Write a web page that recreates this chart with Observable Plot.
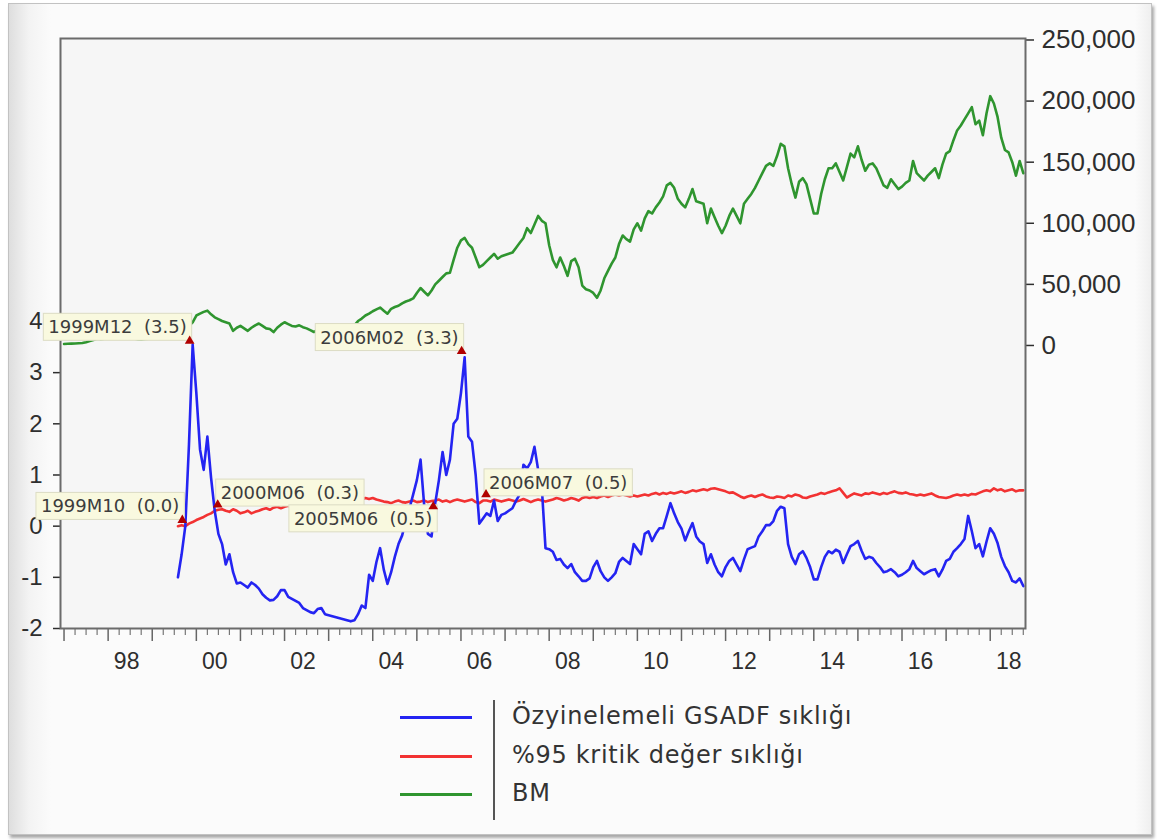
<!DOCTYPE html>
<html>
<head>
<meta charset="utf-8">
<script src="https://cdn.jsdelivr.net/npm/d3@7"></script>
<script src="https://cdn.jsdelivr.net/npm/@observablehq/plot@0.6"></script>
<style>
  html, body { margin: 0; padding: 0; background: #ffffff; }
  body { width: 1157px; height: 840px; overflow: hidden; position: relative; }
  #frame {
    position: absolute; left: 8px; top: 3px; width: 1142px; height: 830px;
    border: 1px solid #c2c2c2;
    background: linear-gradient(to right, #dedede 0px, #f3f3f3 20px, #fbfbfb 42px, #fbfbfb calc(100% - 16px), #efefef 100%);
    box-shadow: 2px 3px 3px rgba(0,0,0,0.35);
  }
  #chart { position: absolute; left: 0; top: 0; }
  .lg { position: absolute; font-family: "DejaVu Sans", Verdana, sans-serif; font-size: 24px; letter-spacing: 0.7px; color: #333; line-height: 1; white-space: nowrap; }
  .lgline { position: absolute; height: 3px; }
</style>
</head>
<body>
<div id="frame"></div>
<div id="chart"></div>
<div id="legend"></div>
<script>
// ---------------- DATA ----------------
// BM, monthly from 1997M01 to 2018M10 (right axis)
const bmStart = [1997, 1];
const bmValues = [
  1200,1400,1500,1600,1800,2000,2600,3600,4500,5500,5200,5600,            // 1997
  6200,6800,7200,7600,8000,7600,7200,5800,5000,4800,5400,5600,            // 1998
  6000,6500,7200,8500,9500,10000,10800,11500,12000,13500,16000,19000,     // 1999
  24500,26000,27500,28500,25500,23000,21500,20000,19000,18000,12000,14500, // 2000
  16000,14000,12000,14500,16500,18000,16000,14000,13500,11000,14500,17000, // 2001
  19000,17500,16000,15500,16500,15000,14000,12500,11000,12500,13500,12000, // 2002
  10500,10000,9500,10500,11500,12500,14000,16500,20000,22000,24500,26000,  // 2003
  28000,29500,31000,28500,26000,30000,31500,32500,34500,36000,37000,38500, // 2004
  43000,47000,44000,41000,45000,50000,53000,56000,59000,59500,70000,80000, // 2005
  86000,88000,83000,80000,72000,64000,66000,69000,72000,75000,71000,73000, // 2006
  74000,75000,76000,80000,84000,88000,96000,92000,99000,106000,102000,100000, // 2007
  82000,70000,64000,72000,65000,57000,69000,71000,64000,49000,46000,45000, // 2008
  43000,39000,45000,55000,61000,67000,72000,83000,90000,87000,85000,95000, // 2009
  100000,94000,104000,110000,108000,113000,117000,122000,131000,133000,129000,120000, // 2010
  116000,113000,120000,128000,118000,117000,116000,100000,112000,105000,98000,92000,   // 2011
  98000,106000,112000,106000,100000,116000,120000,124000,129000,135000,141000,147000,  // 2012
  149000,147000,155000,165000,163000,145000,132000,121000,134000,137000,132000,120000, // 2013
  108000,108000,124000,136000,145000,145000,149000,142000,135000,146000,157000,154000, // 2014
  163000,152000,143000,148000,149000,145000,138000,131000,129000,136000,132000,128000, // 2015
  130000,133000,135000,151000,141000,138000,135000,139000,142000,145000,137000,148000, // 2016
  157000,159000,168000,176000,180000,185000,190000,195000,181000,184000,172000,190000, // 2017
  204000,198000,187000,170000,160000,158000,150000,139000,151000,141000                // 2018
];

// Recursive GSADF sequence, monthly from 1999M08 to 2018M10 (left axis)
const gsadfStart = [1999, 8];
const gsadfValues = [
  -1.0,-0.55,0.0,1.6,3.55,                                          // 1999
  2.6,1.5,1.1,1.75,0.95,0.3,-0.15,-0.35,-0.75,-0.55,-0.9,-1.12,     // 2000
  -1.1,-1.15,-1.2,-1.1,-1.15,-1.22,-1.33,-1.4,-1.45,-1.44,-1.37,-1.25, // 2001
  -1.25,-1.38,-1.42,-1.46,-1.5,-1.6,-1.64,-1.68,-1.7,-1.62,-1.6,-1.72, // 2002
  -1.74,-1.76,-1.78,-1.8,-1.82,-1.84,-1.86,-1.84,-1.72,-1.55,-1.6,-0.95, // 2003
  -1.07,-0.7,-0.43,-0.85,-1.13,-0.9,-0.6,-0.35,-0.18,0.1,0.35,0.62,  // 2004
  0.9,1.3,0.4,-0.15,-0.2,0.45,0.9,1.45,1.0,1.3,2.0,2.1,              // 2005
  2.6,3.3,1.75,1.65,1.0,0.05,0.15,0.25,0.2,0.5,0.1,0.22,             // 2006
  0.25,0.3,0.35,0.5,0.62,1.2,1.13,1.25,1.55,1.1,0.75,-0.43,          // 2007
  -0.45,-0.5,-0.66,-0.64,-0.75,-0.82,-0.74,-0.9,-0.98,-1.07,-1.07,-1.02, // 2008
  -0.8,-0.68,-0.88,-1.0,-1.07,-1.0,-0.92,-0.7,-0.62,-0.68,-0.74,-0.35,   // 2009
  -0.45,-0.55,-0.15,-0.1,-0.29,-0.15,-0.04,-0.04,0.2,0.45,0.25,0.08,     // 2010
  -0.05,-0.28,-0.1,0.06,-0.2,-0.3,-0.35,-0.72,-0.55,-0.75,-0.9,-0.98,    // 2011
  -0.8,-0.68,-0.62,-0.75,-0.88,-0.65,-0.45,-0.42,-0.39,-0.2,-0.1,0.02,   // 2012
  0.02,0.1,0.3,0.38,0.35,-0.35,-0.6,-0.74,-0.55,-0.49,-0.62,-0.8,        // 2013
  -1.04,-1.04,-0.8,-0.6,-0.49,-0.53,-0.46,-0.5,-0.72,-0.55,-0.39,-0.35,  // 2014
  -0.29,-0.48,-0.64,-0.6,-0.62,-0.72,-0.8,-0.9,-0.88,-0.84,-0.9,-0.98,   // 2015
  -0.95,-0.9,-0.84,-0.68,-0.82,-0.88,-0.94,-0.9,-0.86,-0.84,-0.98,-0.85, // 2016
  -0.68,-0.64,-0.5,-0.43,-0.35,-0.25,0.2,-0.1,-0.43,-0.35,-0.59,-0.3,    // 2017
  -0.04,-0.15,-0.33,-0.6,-0.78,-0.9,-1.07,-1.1,-1.02,-1.17               // 2018
];

// 95% critical value sequence, monthly from 1999M08 to 2018M10 (left axis)
const cvStart = [1999, 8];
const cvValues = [
  0.0,0.02,0.0,0.05,0.08,                                            // 1999
  0.12,0.15,0.18,0.22,0.25,0.3,0.32,0.33,0.3,0.28,0.33,0.3,          // 2000
  0.25,0.27,0.3,0.25,0.28,0.3,0.33,0.35,0.32,0.36,0.38,0.35,         // 2001
  0.38,0.4,0.37,0.42,0.4,0.43,0.45,0.42,0.44,0.46,0.43,0.45,         // 2002
  0.47,0.45,0.48,0.5,0.47,0.49,0.52,0.5,0.48,0.52,0.55,0.53,         // 2003
  0.55,0.52,0.5,0.48,0.47,0.45,0.48,0.5,0.47,0.46,0.48,0.5,          // 2004
  0.47,0.48,0.5,0.47,0.49,0.5,0.52,0.48,0.5,0.47,0.5,0.52,           // 2005
  0.5,0.48,0.5,0.52,0.47,0.45,0.5,0.5,0.48,0.52,0.5,0.48,            // 2006
  0.5,0.52,0.5,0.48,0.5,0.53,0.5,0.47,0.5,0.52,0.5,0.48,             // 2007
  0.5,0.52,0.55,0.53,0.5,0.52,0.55,0.53,0.5,0.55,0.57,0.55,          // 2008
  0.57,0.55,0.58,0.6,0.57,0.6,0.62,0.6,0.62,0.6,0.58,0.6,            // 2009
  0.58,0.6,0.62,0.6,0.63,0.65,0.62,0.65,0.63,0.66,0.64,0.66,         // 2010
  0.68,0.65,0.67,0.7,0.68,0.7,0.72,0.7,0.73,0.74,0.72,0.7,           // 2011
  0.68,0.65,0.66,0.62,0.58,0.55,0.58,0.6,0.57,0.6,0.62,0.58,         // 2012
  0.56,0.55,0.58,0.57,0.55,0.6,0.58,0.62,0.6,0.56,0.55,0.58,         // 2013
  0.6,0.62,0.65,0.63,0.66,0.68,0.7,0.74,0.65,0.56,0.6,0.64,          // 2014
  0.62,0.6,0.64,0.63,0.66,0.64,0.62,0.65,0.63,0.66,0.68,0.65,        // 2015
  0.64,0.66,0.63,0.62,0.6,0.62,0.6,0.62,0.64,0.6,0.57,0.56,          // 2016
  0.55,0.57,0.6,0.62,0.6,0.62,0.6,0.63,0.62,0.65,0.68,0.7,           // 2017
  0.68,0.74,0.7,0.72,0.68,0.7,0.72,0.68,0.7,0.7                      // 2018
];

// Annotated points
const annotDates  = ["1999M12", "2006M02", "1999M10", "2000M06", "2005M06", "2006M07"];
const annotValues = [3.5, 3.3, 0.0, 0.3, 0.5, 0.5];
const annotPlace  = ["above-left", "above-left", "above-left", "above-right", "below-left", "above-right"];

// Axis ticks / labels
const leftTicks  = [-2, -1, 0, 1, 2, 3, 4];
const rightTicks = [0, 50000, 100000, 150000, 200000, 250000];
const xLabels    = ["98", "00", "02", "04", "06", "08", "10", "12", "14", "16", "18"];
const xLabelYears = [1998, 2000, 2002, 2004, 2006, 2008, 2010, 2012, 2014, 2016, 2018];

// Legend
const legendLabels = ["Özyinelemeli GSADF sıklığı", "%95 kritik değer sıklığı", "BM"];
const seriesColors = ["#2424f2", "#f23232", "#2f952f"];

// ---------------- BUILD ----------------
// right axis (BM) is mapped onto the left-axis units
const RIGHT_AT_0 = 3.531, RIGHT_AT_250K = 9.501;
const toLeft = v => RIGHT_AT_0 + v * (RIGHT_AT_250K - RIGHT_AT_0) / 250000;
const fromLeft = u => (u - RIGHT_AT_0) * 250000 / (RIGHT_AT_250K - RIGHT_AT_0);

function monthly([y0, m0], values) {
  return values.map((v, i) => {
    const k = m0 - 1 + i;
    return { t: y0 + Math.floor(k / 12) + (k % 12) / 12, v };
  });
}
const parseMonth = s => +s.slice(0, 4) + (+s.slice(5) - 1) / 12;

const bmData = monthly(bmStart, bmValues).map(d => ({ t: d.t, y: toLeft(d.v) }));
const gsadfData = monthly(gsadfStart, gsadfValues);
const cvData = monthly(cvStart, cvValues);

const annots = annotDates.map((s, i) => ({
  t: parseMonth(s), v: annotValues[i], place: annotPlace[i],
  label: s + "\u00a0\u00a0(" + annotValues[i].toFixed(1) + ")"
}));

const yearTicks = d3.range(1997, 2019);
const quarterTicks = d3.range(1997, 2018.9, 0.25).filter(t => t % 1 !== 0 && t < 2018.8);
const labelTicks = xLabelYears.map(y => y + 0.42);

const placeCfg = {
  "above-left":  { textAnchor: "end",   dx: -6, dy: -19.5, mdx: -3, mdy: -6 },
  "above-right": { textAnchor: "start", dx: 6,  dy: -17.5, mdx: 3,  mdy: -6 },
  "below-left":  { textAnchor: "end",   dx: -3, dy: 18.5,  mdx: -2, mdy: 6 }
};
const annotMarks = [];
for (const p of Object.keys(placeCfg)) {
  const c = placeCfg[p];
  const sub = annots.filter(d => d.place === p);
  annotMarks.push(Plot.text(sub, {
    x: "t", y: "v", text: "label", textAnchor: c.textAnchor, dx: c.dx, dy: c.dy,
    fontSize: 18, fontFamily: "DejaVu Sans, Verdana, sans-serif", fill: "#3c3c3c"
  }));
}
for (const p of Object.keys(placeCfg)) {
  const c = placeCfg[p];
  const sub = annots.filter(d => d.place === p);
  annotMarks.push(Plot.dot(sub, {
    x: "t", y: "v", symbol: "triangle", r: 3.6, fill: "#b00000", stroke: "none", dx: c.mdx, dy: c.mdy
  }));
}

const chart = Plot.plot({
  width: 1157, height: 690,
  marginLeft: 60, marginRight: 132, marginTop: 38, marginBottom: 62,
  style: { background: "transparent", fontFamily: "'Liberation Sans', Arial, sans-serif", fontSize: "24px", overflow: "visible" },
  x: { type: "linear", domain: [1996.92, 2018.80] },
  y: { domain: [-2, 9.53] },
  marks: [
    Plot.frame({ fill: "#f6f6f6", stroke: "none" }),
    Plot.axisY({ anchor: "left", ticks: leftTicks, tickSize: 7, tickPadding: 11, tickFormat: d => String(d), color: "#2e2e2e", strokeWidth: 1.5, fontSize: 24, label: null }),
    Plot.axisY({ anchor: "right", ticks: rightTicks.map(toLeft), tickSize: 8, tickPadding: 8,
      tickFormat: d => d3.format(",")(Math.round(fromLeft(d) / 1000) * 1000), color: "#2e2e2e", strokeWidth: 1.5, fontSize: 26, label: null }),
    Plot.axisX({ ticks: yearTicks, tickSize: 13, tickFormat: () => "", color: "#666", strokeWidth: 1.5, label: null }),
    Plot.axisX({ ticks: quarterTicks, tickSize: 7, tickFormat: () => "", color: "#777", strokeWidth: 1.2, label: null }),
    Plot.axisX({ ticks: labelTicks, tickSize: 0, tickPadding: 24, fontSize: 23,
      tickFormat: d => xLabels[xLabelYears.indexOf(Math.floor(d))], color: "#2e2e2e", label: null }),
    Plot.line(bmData, { x: "t", y: "y", stroke: seriesColors[2], strokeWidth: 2.6 }),
    Plot.line(cvData, { x: "t", y: "v", stroke: seriesColors[1], strokeWidth: 2.6 }),
    Plot.line(gsadfData, { x: "t", y: "v", stroke: seriesColors[0], strokeWidth: 2.6 }),
    Plot.frame({ stroke: "#6b6b6b", strokeWidth: 2 }),
    ...annotMarks
  ]
});
document.getElementById("chart").append(chart);

// label boxes behind annotation texts
(function () {
  const ns = "http://www.w3.org/2000/svg";
  const svgRect = chart.getBoundingClientRect();
  const groups = [...chart.querySelectorAll('g[aria-label="text"]')];
  if (!groups.length) return;
  const boxG = document.createElementNS(ns, "g");
  groups.forEach(g => g.querySelectorAll("text").forEach(t => {
    const r = t.getBoundingClientRect();
    const cy = (r.top + r.bottom) / 2 - svgRect.top;
    const rect = document.createElementNS(ns, "rect");
    rect.setAttribute("x", r.left - svgRect.left - 5);
    rect.setAttribute("y", cy - 13.5);
    rect.setAttribute("width", r.width + 10);
    rect.setAttribute("height", 27);
    rect.setAttribute("fill", "#f9f9df");
    rect.setAttribute("stroke", "#dcdcc4");
    rect.setAttribute("stroke-width", "1");
    boxG.appendChild(rect);
  }));
  groups[0].parentNode.insertBefore(boxG, groups[0]);
})();

// legend (below the plot)
(function () {
  const L = document.getElementById("legend");
  const rowY = [717, 756, 794];
  legendLabels.forEach((lab, i) => {
    const ln = document.createElement("div");
    ln.className = "lgline";
    ln.style.left = "400px"; ln.style.width = "72px";
    ln.style.top = (rowY[i] - 1.5) + "px";
    ln.style.background = seriesColors[i];
    L.appendChild(ln);
    const tx = document.createElement("div");
    tx.className = "lg";
    tx.textContent = lab;
    tx.style.left = "512px";
    tx.style.top = (rowY[i] - 13) + "px";
    L.appendChild(tx);
  });
  const bar = document.createElement("div");
  bar.style.cssText = "position:absolute;left:493px;top:700px;width:2px;height:120px;background:#555";
  L.appendChild(bar);
})();
</script>
</body>
</html>
